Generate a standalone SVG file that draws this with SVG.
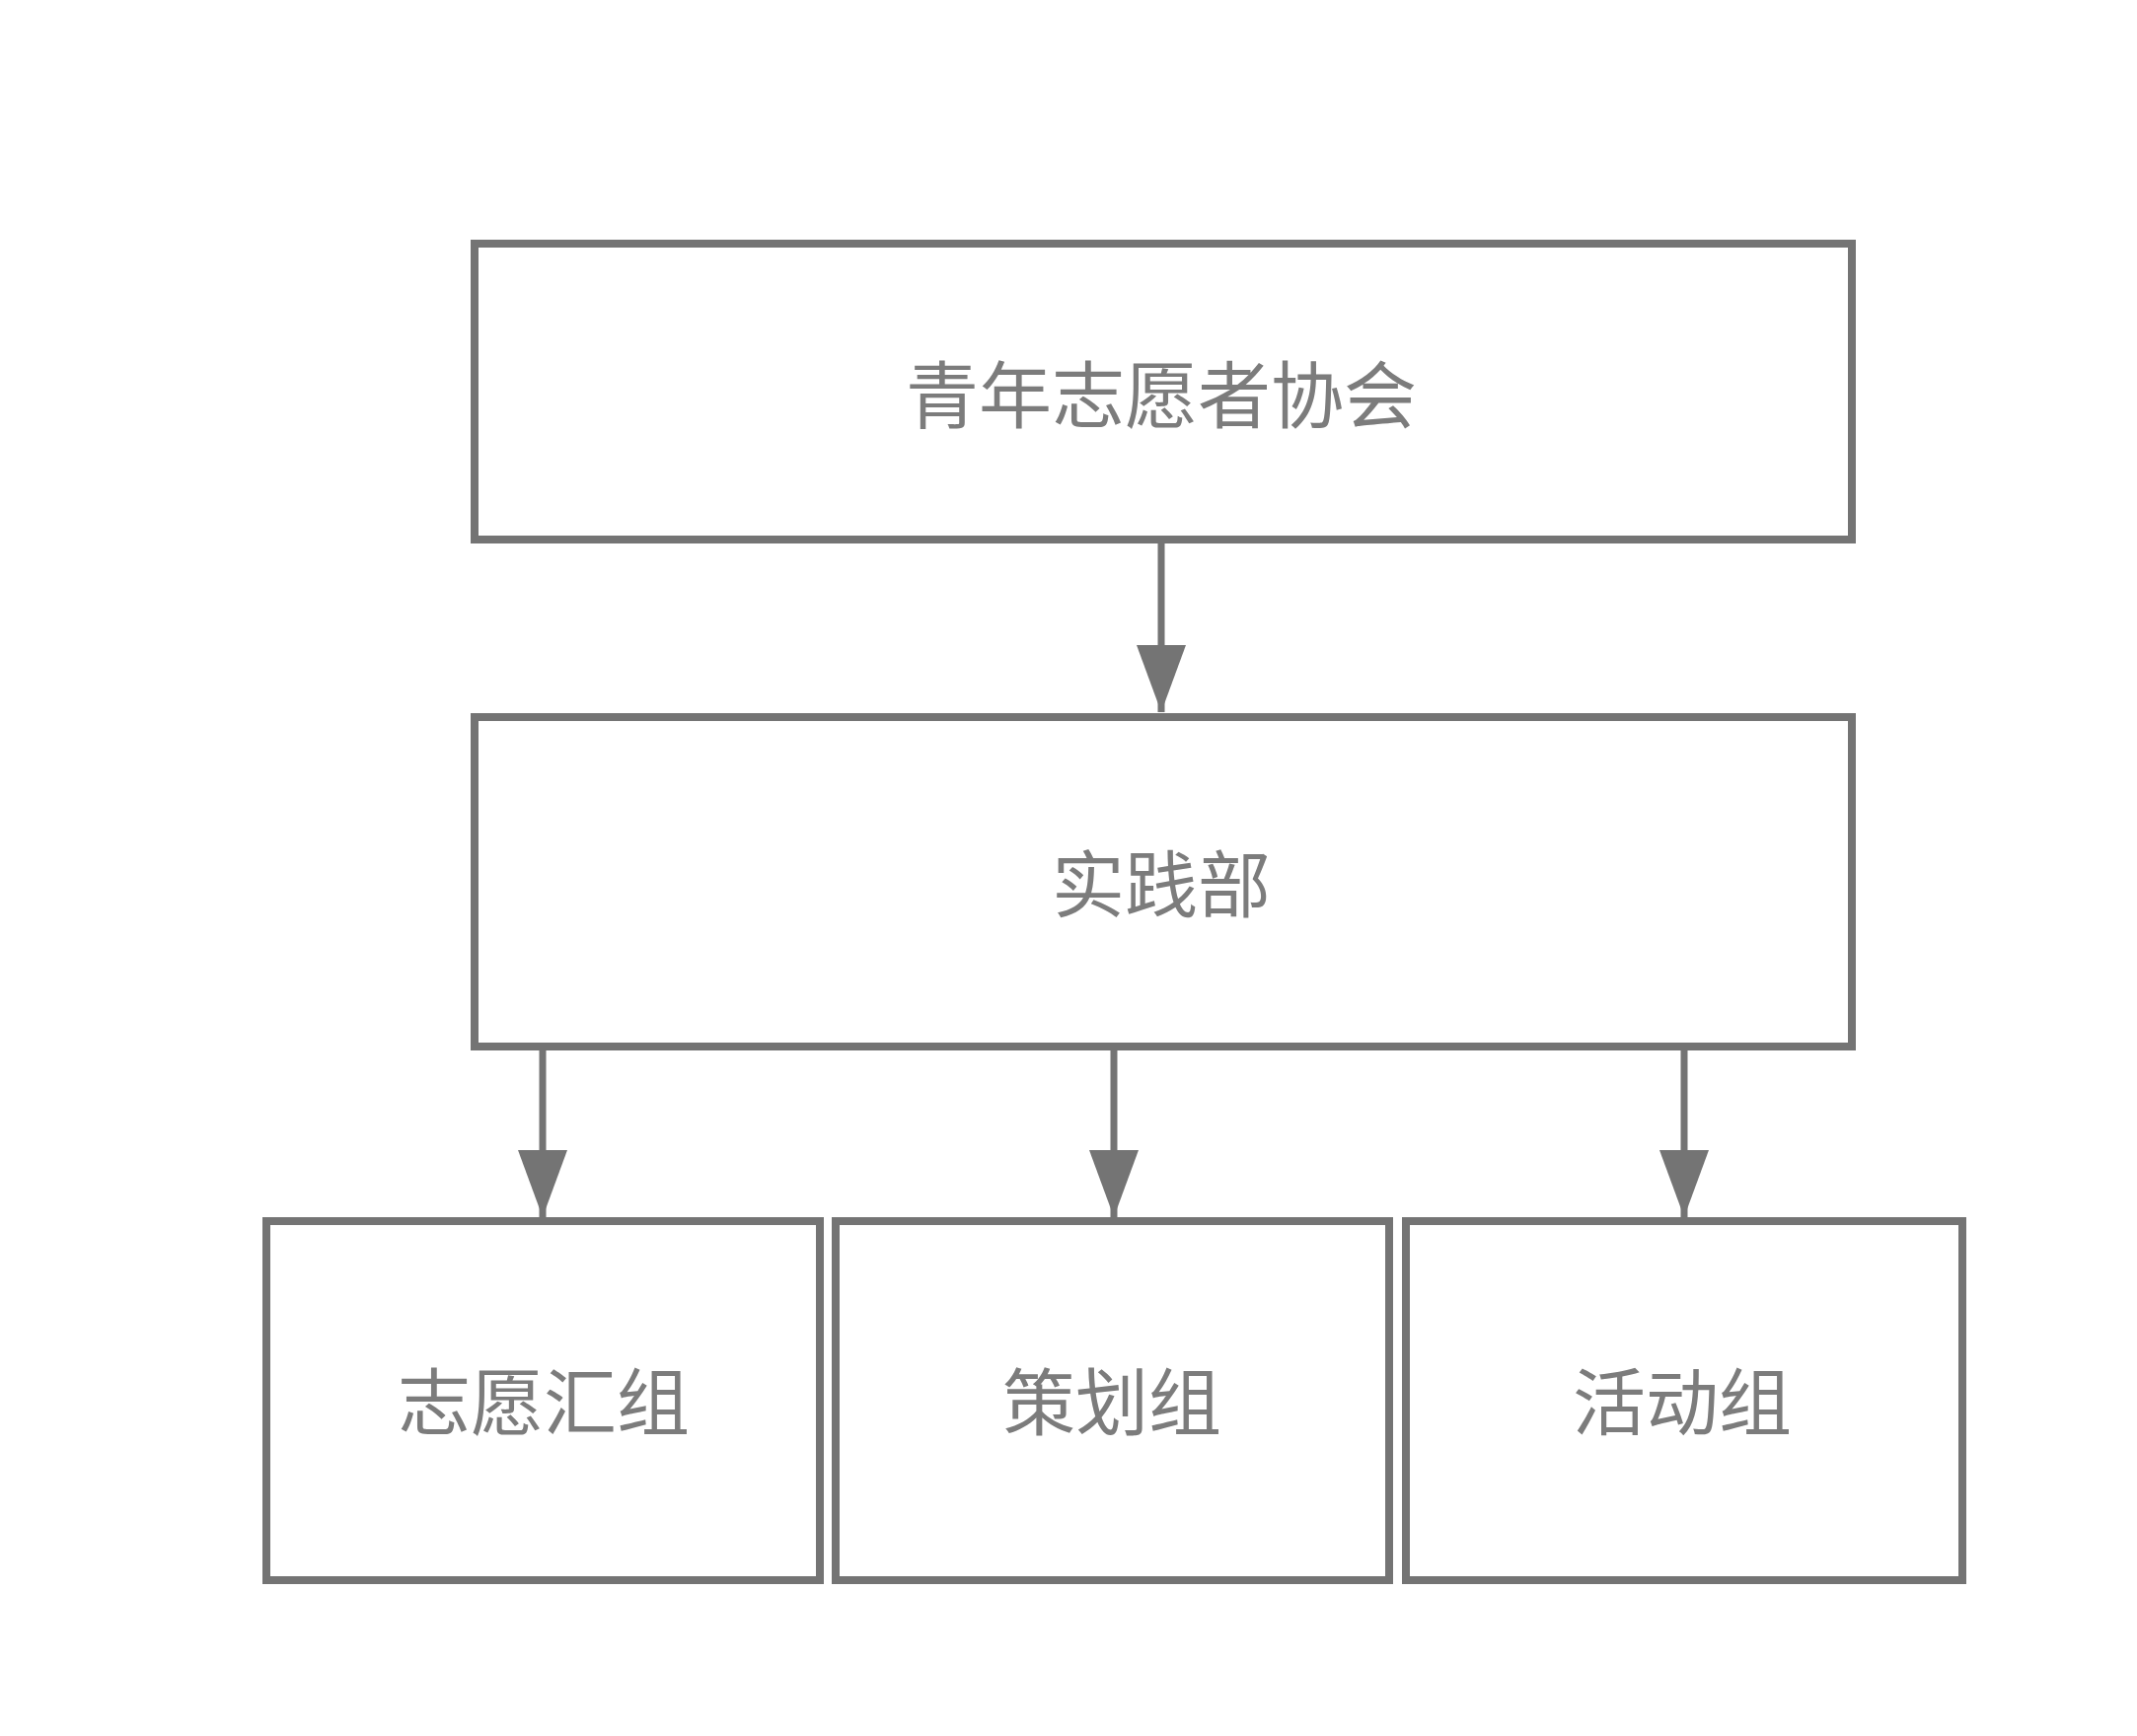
<svg xmlns="http://www.w3.org/2000/svg" width="2166" height="1760" viewBox="0 0 2166 1760">
<style>
.box{fill:#ffffff;stroke:#747474;stroke-width:8}
.lbl{font-family:"Noto Sans CJK SC","Noto Sans",sans-serif;font-size:74px;fill:#7c7c7c;text-anchor:middle;dominant-baseline:central}
.conn{stroke:#747474;stroke-width:7;fill:none}
</style>
<defs>
<marker id="arr" markerUnits="userSpaceOnUse" markerWidth="70" markerHeight="52" refX="68" refY="25" orient="auto" viewBox="0 0 70 52">
<path d="M0,0 L68,25 L0,50 z" fill="#747474"/>
</marker>
</defs>
<rect width="2166" height="1760" fill="#ffffff"/>
<g id="n1"><rect class="box" x="481" y="247" width="1396" height="300"/><text class="lbl" x="1177" y="395">青年志愿者协会</text></g>
<g id="n2"><rect class="box" x="481" y="727" width="1396" height="334"/><text class="lbl" x="1177" y="891">实践部</text></g>
<g id="n3"><rect class="box" x="270" y="1238" width="561" height="364"/><text class="lbl" x="551" y="1416">志愿汇组</text></g>
<g id="n4"><rect class="box" x="847" y="1238" width="561" height="364"/><text class="lbl" x="1127" y="1416">策划组</text></g>
<g id="n5"><rect class="box" x="1425" y="1238" width="564" height="364"/><text class="lbl" x="1705" y="1416">活动组</text></g>
<g id="connectors">
<line class="conn" x1="1177" y1="551" x2="1177" y2="722" marker-end="url(#arr)"/>
<line class="conn" x1="550" y1="1065" x2="550" y2="1234" marker-end="url(#arr)"/>
<line class="conn" x1="1129" y1="1065" x2="1129" y2="1234" marker-end="url(#arr)"/>
<line class="conn" x1="1707" y1="1065" x2="1707" y2="1234" marker-end="url(#arr)"/>
</g>
</svg>
